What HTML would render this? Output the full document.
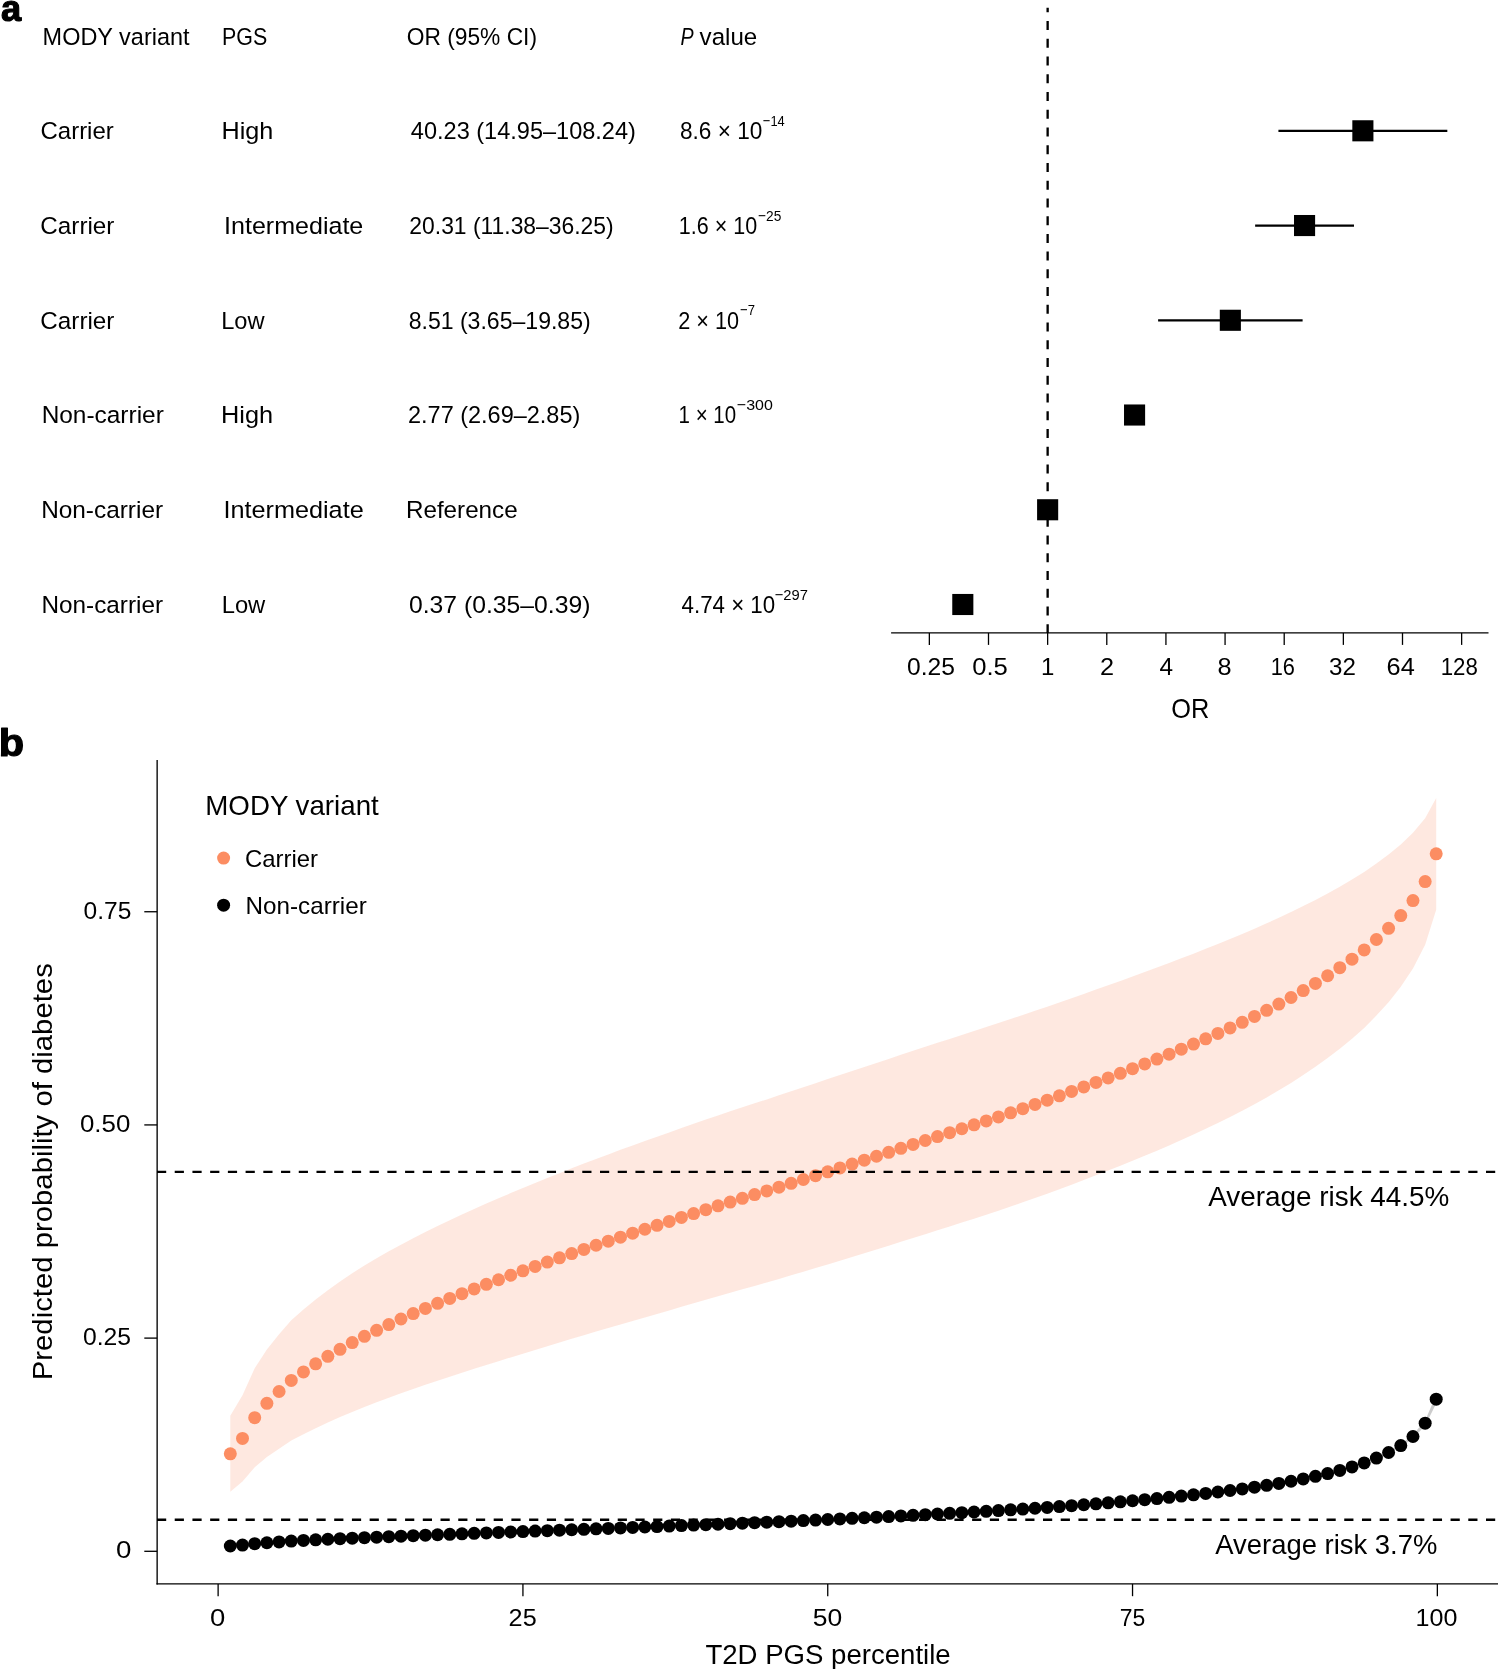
<!DOCTYPE html>
<html><head><meta charset="utf-8"><title>Figure</title><style>
html,body{margin:0;padding:0;background:#fff;width:1498px;height:1669px;overflow:hidden;}
svg{display:block;}
text{font-family:"Liberation Sans", sans-serif;}
.t{filter:opacity(0.999)}
</style></head><body>
<svg width="1498" height="1669" viewBox="0 0 1498 1669">
<rect x="0" y="0" width="1498" height="1669" fill="#fff"/>
<line x1="1047.64" y1="7.7" x2="1047.64" y2="633" stroke="#000" stroke-width="2.33" stroke-dasharray="9.0 8.74" stroke-dashoffset="4.44"/>
<line x1="1278.42" y1="130.80" x2="1447.33" y2="130.80" stroke="#000" stroke-width="2.2"/>
<rect x="1352.33" y="120.25" width="21.1" height="21.1" fill="#000"/>
<line x1="1255.14" y1="225.54" x2="1354.00" y2="225.54" stroke="#000" stroke-width="2.2"/>
<rect x="1294.01" y="214.99" width="21.1" height="21.1" fill="#000"/>
<line x1="1158.11" y1="320.28" x2="1302.61" y2="320.28" stroke="#000" stroke-width="2.2"/>
<rect x="1219.79" y="309.73" width="21.1" height="21.1" fill="#000"/>
<line x1="1132.07" y1="415.02" x2="1137.00" y2="415.02" stroke="#000" stroke-width="2.2"/>
<rect x="1124.02" y="404.47" width="21.1" height="21.1" fill="#000"/>
<rect x="1037.09" y="499.21" width="21.1" height="21.1" fill="#000"/>
<line x1="958.06" y1="604.50" x2="967.30" y2="604.50" stroke="#000" stroke-width="2.2"/>
<rect x="952.26" y="593.95" width="21.1" height="21.1" fill="#000"/>
<line x1="891.1" y1="632.93" x2="1488.5" y2="632.93" stroke="#000" stroke-width="1.32"/>
<line x1="929.35" y1="632.93" x2="929.35" y2="644.9" stroke="#000" stroke-width="1.3"/>
<line x1="988.50" y1="632.93" x2="988.50" y2="644.9" stroke="#000" stroke-width="1.3"/>
<line x1="1047.64" y1="632.93" x2="1047.64" y2="644.9" stroke="#000" stroke-width="1.3"/>
<line x1="1106.78" y1="632.93" x2="1106.78" y2="644.9" stroke="#000" stroke-width="1.3"/>
<line x1="1165.93" y1="632.93" x2="1165.93" y2="644.9" stroke="#000" stroke-width="1.3"/>
<line x1="1225.07" y1="632.93" x2="1225.07" y2="644.9" stroke="#000" stroke-width="1.3"/>
<line x1="1284.21" y1="632.93" x2="1284.21" y2="644.9" stroke="#000" stroke-width="1.3"/>
<line x1="1343.36" y1="632.93" x2="1343.36" y2="644.9" stroke="#000" stroke-width="1.3"/>
<line x1="1402.50" y1="632.93" x2="1402.50" y2="644.9" stroke="#000" stroke-width="1.3"/>
<line x1="1461.64" y1="632.93" x2="1461.64" y2="644.9" stroke="#000" stroke-width="1.3"/>
<path d="M230.31,1415.81 L242.50,1395.30 L254.70,1368.13 L266.89,1349.48 L279.08,1334.36 L291.27,1320.25 L303.47,1309.61 L315.66,1299.48 L327.85,1290.13 L340.04,1281.47 L352.24,1273.25 L364.43,1265.55 L376.62,1258.27 L388.81,1251.30 L401.00,1244.64 L413.20,1238.17 L425.39,1231.96 L437.58,1225.95 L449.77,1220.14 L461.97,1214.52 L474.16,1209.00 L486.35,1203.62 L498.54,1198.31 L510.74,1193.10 L522.93,1188.00 L535.12,1182.94 L547.31,1178.02 L559.50,1173.14 L571.70,1168.34 L583.89,1163.62 L596.08,1158.94 L608.27,1154.38 L620.47,1149.86 L632.66,1145.41 L644.85,1141.05 L657.04,1136.67 L669.24,1132.41 L681.43,1128.08 L693.62,1123.81 L705.81,1119.62 L718.00,1115.44 L730.20,1111.36 L742.39,1107.31 L754.58,1103.30 L766.77,1099.41 L778.97,1095.35 L791.16,1091.28 L803.35,1087.24 L815.54,1083.15 L827.74,1079.11 L839.93,1075.06 L852.12,1071.04 L864.31,1067.01 L876.50,1062.96 L888.70,1058.88 L900.89,1054.81 L913.08,1050.79 L925.27,1046.81 L937.47,1042.85 L949.66,1038.90 L961.85,1034.95 L974.04,1031.07 L986.23,1027.11 L998.43,1023.11 L1010.62,1019.08 L1022.81,1015.00 L1035.00,1010.86 L1047.20,1006.68 L1059.39,1002.44 L1071.58,998.21 L1083.77,993.90 L1095.97,989.60 L1108.16,985.26 L1120.35,980.88 L1132.54,976.46 L1144.73,972.03 L1156.93,967.51 L1169.12,962.95 L1181.31,958.32 L1193.50,953.66 L1205.70,948.86 L1217.89,943.97 L1230.08,938.98 L1242.27,933.91 L1254.47,928.71 L1266.66,923.34 L1278.85,917.79 L1291.04,912.07 L1303.23,906.12 L1315.43,899.93 L1327.62,893.45 L1339.81,886.67 L1352.00,879.51 L1364.20,871.91 L1376.39,863.44 L1388.58,854.45 L1400.77,844.41 L1412.97,832.76 L1425.16,818.35 L1436.20,797.93 L1436.20,909.67 L1425.16,944.85 L1412.97,968.44 L1400.77,986.79 L1388.58,1002.15 L1376.39,1015.56 L1364.20,1027.90 L1352.00,1038.75 L1339.81,1048.77 L1327.62,1058.10 L1315.43,1066.86 L1303.23,1075.11 L1291.04,1082.92 L1278.85,1090.32 L1266.66,1097.40 L1254.47,1104.17 L1242.27,1110.65 L1230.08,1116.88 L1217.89,1122.94 L1205.70,1128.82 L1193.50,1134.52 L1181.31,1140.00 L1169.12,1145.39 L1156.93,1150.64 L1144.73,1155.79 L1132.54,1160.80 L1120.35,1165.74 L1108.16,1170.59 L1095.97,1175.35 L1083.77,1180.01 L1071.58,1184.66 L1059.39,1189.17 L1047.20,1193.65 L1035.00,1198.03 L1022.81,1202.34 L1010.62,1206.53 L998.43,1210.65 L986.23,1214.70 L974.04,1218.67 L961.85,1222.54 L949.66,1226.44 L937.47,1230.32 L925.27,1234.16 L913.08,1238.00 L900.89,1241.85 L888.70,1245.71 L876.50,1249.55 L864.31,1253.34 L852.12,1257.07 L839.93,1260.76 L827.74,1264.45 L815.54,1268.10 L803.35,1271.77 L791.16,1275.36 L778.97,1278.96 L766.77,1282.51 L754.58,1285.90 L742.39,1289.35 L730.20,1292.82 L718.00,1296.28 L705.81,1299.81 L693.62,1303.30 L681.43,1306.85 L669.24,1310.41 L657.04,1313.88 L644.85,1317.43 L632.66,1320.92 L620.47,1324.47 L608.27,1328.03 L596.08,1331.60 L583.89,1335.23 L571.70,1338.86 L559.50,1342.51 L547.31,1346.21 L535.12,1349.89 L522.93,1353.64 L510.74,1357.39 L498.54,1361.18 L486.35,1365.01 L474.16,1368.85 L461.97,1372.75 L449.77,1376.69 L437.58,1380.71 L425.39,1384.83 L413.20,1389.04 L401.00,1393.37 L388.81,1397.78 L376.62,1402.34 L364.43,1407.05 L352.24,1411.96 L340.04,1417.12 L327.85,1422.48 L315.66,1428.18 L303.47,1434.25 L291.27,1440.51 L279.08,1448.64 L266.89,1457.12 L254.70,1467.27 L242.50,1481.50 L230.31,1491.79 Z" fill="#FC8D62" fill-opacity="0.2"/>
<path d="M230.31,1545.41 L242.50,1544.46 L254.70,1543.11 L266.89,1542.13 L279.08,1541.30 L291.27,1540.50 L303.47,1539.86 L315.66,1539.25 L327.85,1538.66 L340.04,1538.10 L352.24,1537.56 L364.43,1537.03 L376.62,1536.53 L388.81,1536.03 L401.00,1535.55 L413.20,1535.07 L425.39,1534.60 L437.58,1534.14 L449.77,1533.68 L461.97,1533.23 L474.16,1532.77 L486.35,1532.33 L498.54,1531.87 L510.74,1531.42 L522.93,1530.97 L535.12,1530.52 L547.31,1530.07 L559.50,1529.61 L571.70,1529.16 L583.89,1528.70 L596.08,1528.24 L608.27,1527.79 L620.47,1527.33 L632.66,1526.87 L644.85,1526.41 L657.04,1525.94 L669.24,1525.47 L681.43,1524.99 L693.62,1524.51 L705.81,1524.03 L718.00,1523.54 L730.20,1523.05 L742.39,1522.56 L754.58,1522.07 L766.77,1521.58 L778.97,1521.06 L791.16,1520.53 L803.35,1520.00 L815.54,1519.45 L827.74,1518.89 L839.93,1518.32 L852.12,1517.75 L864.31,1517.16 L876.50,1516.56 L888.70,1515.95 L900.89,1515.32 L913.08,1514.69 L925.27,1514.05 L937.47,1513.40 L949.66,1512.74 L961.85,1512.06 L974.04,1511.39 L986.23,1510.68 L998.43,1509.96 L1010.62,1509.21 L1022.81,1508.44 L1035.00,1507.63 L1047.20,1506.80 L1059.39,1505.94 L1071.58,1505.06 L1083.77,1504.13 L1095.97,1503.19 L1108.16,1502.21 L1120.35,1501.20 L1132.54,1500.15 L1144.73,1499.07 L1156.93,1497.93 L1169.12,1496.75 L1181.31,1495.51 L1193.50,1494.23 L1205.70,1492.86 L1217.89,1491.42 L1230.08,1489.90 L1242.27,1488.30 L1254.47,1486.59 L1266.66,1484.75 L1278.85,1482.78 L1291.04,1480.64 L1303.23,1478.32 L1315.43,1475.77 L1327.62,1472.96 L1339.81,1469.84 L1352.00,1466.33 L1364.20,1462.34 L1376.39,1457.52 L1388.58,1451.42 L1400.77,1444.19 L1412.97,1434.68 L1425.16,1420.61 L1436.20,1394.91 L1436.20,1403.51 L1425.16,1425.81 L1412.97,1438.28 L1400.77,1446.99 L1388.58,1453.62 L1376.39,1458.72 L1364.20,1463.54 L1352.00,1467.53 L1339.81,1471.04 L1327.62,1474.16 L1315.43,1476.97 L1303.23,1479.52 L1291.04,1481.84 L1278.85,1483.98 L1266.66,1485.95 L1254.47,1487.79 L1242.27,1489.50 L1230.08,1491.10 L1217.89,1492.62 L1205.70,1494.06 L1193.50,1495.43 L1181.31,1496.71 L1169.12,1497.95 L1156.93,1499.13 L1144.73,1500.27 L1132.54,1501.35 L1120.35,1502.40 L1108.16,1503.41 L1095.97,1504.39 L1083.77,1505.33 L1071.58,1506.26 L1059.39,1507.14 L1047.20,1508.00 L1035.00,1508.83 L1022.81,1509.64 L1010.62,1510.41 L998.43,1511.16 L986.23,1511.88 L974.04,1512.59 L961.85,1513.26 L949.66,1513.94 L937.47,1514.60 L925.27,1515.25 L913.08,1515.89 L900.89,1516.52 L888.70,1517.15 L876.50,1517.76 L864.31,1518.36 L852.12,1518.95 L839.93,1519.52 L827.74,1520.09 L815.54,1520.65 L803.35,1521.20 L791.16,1521.73 L778.97,1522.26 L766.77,1522.78 L754.58,1523.27 L742.39,1523.76 L730.20,1524.25 L718.00,1524.74 L705.81,1525.23 L693.62,1525.71 L681.43,1526.19 L669.24,1526.67 L657.04,1527.14 L644.85,1527.61 L632.66,1528.07 L620.47,1528.53 L608.27,1528.99 L596.08,1529.44 L583.89,1529.90 L571.70,1530.36 L559.50,1530.81 L547.31,1531.27 L535.12,1531.72 L522.93,1532.17 L510.74,1532.62 L498.54,1533.07 L486.35,1533.53 L474.16,1533.97 L461.97,1534.43 L449.77,1534.88 L437.58,1535.34 L425.39,1535.80 L413.20,1536.27 L401.00,1536.75 L388.81,1537.23 L376.62,1537.73 L364.43,1538.23 L352.24,1538.76 L340.04,1539.30 L327.85,1539.86 L315.66,1540.45 L303.47,1541.06 L291.27,1541.70 L279.08,1542.50 L266.89,1543.33 L254.70,1544.31 L242.50,1545.66 L230.31,1546.61 Z" fill="#000" fill-opacity="0.2"/>
<g fill="#FC8D62"><circle cx="230.31" cy="1453.80" r="6.5"/><circle cx="242.50" cy="1438.40" r="6.5"/><circle cx="254.70" cy="1417.70" r="6.5"/><circle cx="266.89" cy="1403.30" r="6.5"/><circle cx="279.08" cy="1391.50" r="6.5"/><circle cx="291.27" cy="1380.38" r="6.5"/><circle cx="303.47" cy="1371.93" r="6.5"/><circle cx="315.66" cy="1363.83" r="6.5"/><circle cx="327.85" cy="1356.31" r="6.5"/><circle cx="340.04" cy="1349.29" r="6.5"/><circle cx="352.24" cy="1342.60" r="6.5"/><circle cx="364.43" cy="1336.30" r="6.5"/><circle cx="376.62" cy="1330.31" r="6.5"/><circle cx="388.81" cy="1324.54" r="6.5"/><circle cx="401.00" cy="1319.00" r="6.5"/><circle cx="413.20" cy="1313.60" r="6.5"/><circle cx="425.39" cy="1308.39" r="6.5"/><circle cx="437.58" cy="1303.33" r="6.5"/><circle cx="449.77" cy="1298.41" r="6.5"/><circle cx="461.97" cy="1293.63" r="6.5"/><circle cx="474.16" cy="1288.92" r="6.5"/><circle cx="486.35" cy="1284.31" r="6.5"/><circle cx="498.54" cy="1279.74" r="6.5"/><circle cx="510.74" cy="1275.24" r="6.5"/><circle cx="522.93" cy="1270.82" r="6.5"/><circle cx="535.12" cy="1266.41" r="6.5"/><circle cx="547.31" cy="1262.11" r="6.5"/><circle cx="559.50" cy="1257.82" r="6.5"/><circle cx="571.70" cy="1253.60" r="6.5"/><circle cx="583.89" cy="1249.43" r="6.5"/><circle cx="596.08" cy="1245.27" r="6.5"/><circle cx="608.27" cy="1241.20" r="6.5"/><circle cx="620.47" cy="1237.16" r="6.5"/><circle cx="632.66" cy="1233.16" r="6.5"/><circle cx="644.85" cy="1229.24" r="6.5"/><circle cx="657.04" cy="1225.28" r="6.5"/><circle cx="669.24" cy="1221.41" r="6.5"/><circle cx="681.43" cy="1217.46" r="6.5"/><circle cx="693.62" cy="1213.55" r="6.5"/><circle cx="705.81" cy="1209.72" r="6.5"/><circle cx="718.00" cy="1205.86" r="6.5"/><circle cx="730.20" cy="1202.09" r="6.5"/><circle cx="742.39" cy="1198.33" r="6.5"/><circle cx="754.58" cy="1194.60" r="6.5"/><circle cx="766.77" cy="1190.96" r="6.5"/><circle cx="778.97" cy="1187.15" r="6.5"/><circle cx="791.16" cy="1183.32" r="6.5"/><circle cx="803.35" cy="1179.51" r="6.5"/><circle cx="815.54" cy="1175.63" r="6.5"/><circle cx="827.74" cy="1171.78" r="6.5"/><circle cx="839.93" cy="1167.91" r="6.5"/><circle cx="852.12" cy="1164.05" r="6.5"/><circle cx="864.31" cy="1160.17" r="6.5"/><circle cx="876.50" cy="1156.26" r="6.5"/><circle cx="888.70" cy="1152.29" r="6.5"/><circle cx="900.89" cy="1148.33" r="6.5"/><circle cx="913.08" cy="1144.40" r="6.5"/><circle cx="925.27" cy="1140.48" r="6.5"/><circle cx="937.47" cy="1136.58" r="6.5"/><circle cx="949.66" cy="1132.67" r="6.5"/><circle cx="961.85" cy="1128.75" r="6.5"/><circle cx="974.04" cy="1124.87" r="6.5"/><circle cx="986.23" cy="1120.90" r="6.5"/><circle cx="998.43" cy="1116.88" r="6.5"/><circle cx="1010.62" cy="1112.81" r="6.5"/><circle cx="1022.81" cy="1108.67" r="6.5"/><circle cx="1035.00" cy="1104.45" r="6.5"/><circle cx="1047.20" cy="1100.17" r="6.5"/><circle cx="1059.39" cy="1095.81" r="6.5"/><circle cx="1071.58" cy="1091.44" r="6.5"/><circle cx="1083.77" cy="1086.96" r="6.5"/><circle cx="1095.97" cy="1082.47" r="6.5"/><circle cx="1108.16" cy="1077.93" r="6.5"/><circle cx="1120.35" cy="1073.31" r="6.5"/><circle cx="1132.54" cy="1068.63" r="6.5"/><circle cx="1144.73" cy="1063.91" r="6.5"/><circle cx="1156.93" cy="1059.07" r="6.5"/><circle cx="1169.12" cy="1054.17" r="6.5"/><circle cx="1181.31" cy="1049.16" r="6.5"/><circle cx="1193.50" cy="1044.09" r="6.5"/><circle cx="1205.70" cy="1038.84" r="6.5"/><circle cx="1217.89" cy="1033.45" r="6.5"/><circle cx="1230.08" cy="1027.93" r="6.5"/><circle cx="1242.27" cy="1022.28" r="6.5"/><circle cx="1254.47" cy="1016.44" r="6.5"/><circle cx="1266.66" cy="1010.37" r="6.5"/><circle cx="1278.85" cy="1004.05" r="6.5"/><circle cx="1291.04" cy="997.49" r="6.5"/><circle cx="1303.23" cy="990.62" r="6.5"/><circle cx="1315.43" cy="983.40" r="6.5"/><circle cx="1327.62" cy="975.77" r="6.5"/><circle cx="1339.81" cy="967.72" r="6.5"/><circle cx="1352.00" cy="959.13" r="6.5"/><circle cx="1364.20" cy="949.91" r="6.5"/><circle cx="1376.39" cy="939.50" r="6.5"/><circle cx="1388.58" cy="928.30" r="6.5"/><circle cx="1400.77" cy="915.60" r="6.5"/><circle cx="1412.97" cy="900.60" r="6.5"/><circle cx="1425.16" cy="881.60" r="6.5"/><circle cx="1436.20" cy="853.80" r="6.5"/></g>
<g fill="#000"><circle cx="230.31" cy="1546.01" r="6.5"/><circle cx="242.50" cy="1545.06" r="6.5"/><circle cx="254.70" cy="1543.71" r="6.5"/><circle cx="266.89" cy="1542.73" r="6.5"/><circle cx="279.08" cy="1541.90" r="6.5"/><circle cx="291.27" cy="1541.10" r="6.5"/><circle cx="303.47" cy="1540.46" r="6.5"/><circle cx="315.66" cy="1539.85" r="6.5"/><circle cx="327.85" cy="1539.26" r="6.5"/><circle cx="340.04" cy="1538.70" r="6.5"/><circle cx="352.24" cy="1538.16" r="6.5"/><circle cx="364.43" cy="1537.63" r="6.5"/><circle cx="376.62" cy="1537.13" r="6.5"/><circle cx="388.81" cy="1536.63" r="6.5"/><circle cx="401.00" cy="1536.15" r="6.5"/><circle cx="413.20" cy="1535.67" r="6.5"/><circle cx="425.39" cy="1535.20" r="6.5"/><circle cx="437.58" cy="1534.74" r="6.5"/><circle cx="449.77" cy="1534.28" r="6.5"/><circle cx="461.97" cy="1533.83" r="6.5"/><circle cx="474.16" cy="1533.37" r="6.5"/><circle cx="486.35" cy="1532.93" r="6.5"/><circle cx="498.54" cy="1532.47" r="6.5"/><circle cx="510.74" cy="1532.02" r="6.5"/><circle cx="522.93" cy="1531.57" r="6.5"/><circle cx="535.12" cy="1531.12" r="6.5"/><circle cx="547.31" cy="1530.67" r="6.5"/><circle cx="559.50" cy="1530.21" r="6.5"/><circle cx="571.70" cy="1529.76" r="6.5"/><circle cx="583.89" cy="1529.30" r="6.5"/><circle cx="596.08" cy="1528.84" r="6.5"/><circle cx="608.27" cy="1528.39" r="6.5"/><circle cx="620.47" cy="1527.93" r="6.5"/><circle cx="632.66" cy="1527.47" r="6.5"/><circle cx="644.85" cy="1527.01" r="6.5"/><circle cx="657.04" cy="1526.54" r="6.5"/><circle cx="669.24" cy="1526.07" r="6.5"/><circle cx="681.43" cy="1525.59" r="6.5"/><circle cx="693.62" cy="1525.11" r="6.5"/><circle cx="705.81" cy="1524.63" r="6.5"/><circle cx="718.00" cy="1524.14" r="6.5"/><circle cx="730.20" cy="1523.65" r="6.5"/><circle cx="742.39" cy="1523.16" r="6.5"/><circle cx="754.58" cy="1522.67" r="6.5"/><circle cx="766.77" cy="1522.18" r="6.5"/><circle cx="778.97" cy="1521.66" r="6.5"/><circle cx="791.16" cy="1521.13" r="6.5"/><circle cx="803.35" cy="1520.60" r="6.5"/><circle cx="815.54" cy="1520.05" r="6.5"/><circle cx="827.74" cy="1519.49" r="6.5"/><circle cx="839.93" cy="1518.92" r="6.5"/><circle cx="852.12" cy="1518.35" r="6.5"/><circle cx="864.31" cy="1517.76" r="6.5"/><circle cx="876.50" cy="1517.16" r="6.5"/><circle cx="888.70" cy="1516.55" r="6.5"/><circle cx="900.89" cy="1515.92" r="6.5"/><circle cx="913.08" cy="1515.29" r="6.5"/><circle cx="925.27" cy="1514.65" r="6.5"/><circle cx="937.47" cy="1514.00" r="6.5"/><circle cx="949.66" cy="1513.34" r="6.5"/><circle cx="961.85" cy="1512.66" r="6.5"/><circle cx="974.04" cy="1511.99" r="6.5"/><circle cx="986.23" cy="1511.28" r="6.5"/><circle cx="998.43" cy="1510.56" r="6.5"/><circle cx="1010.62" cy="1509.81" r="6.5"/><circle cx="1022.81" cy="1509.04" r="6.5"/><circle cx="1035.00" cy="1508.23" r="6.5"/><circle cx="1047.20" cy="1507.40" r="6.5"/><circle cx="1059.39" cy="1506.54" r="6.5"/><circle cx="1071.58" cy="1505.66" r="6.5"/><circle cx="1083.77" cy="1504.73" r="6.5"/><circle cx="1095.97" cy="1503.79" r="6.5"/><circle cx="1108.16" cy="1502.81" r="6.5"/><circle cx="1120.35" cy="1501.80" r="6.5"/><circle cx="1132.54" cy="1500.75" r="6.5"/><circle cx="1144.73" cy="1499.67" r="6.5"/><circle cx="1156.93" cy="1498.53" r="6.5"/><circle cx="1169.12" cy="1497.35" r="6.5"/><circle cx="1181.31" cy="1496.11" r="6.5"/><circle cx="1193.50" cy="1494.83" r="6.5"/><circle cx="1205.70" cy="1493.46" r="6.5"/><circle cx="1217.89" cy="1492.02" r="6.5"/><circle cx="1230.08" cy="1490.50" r="6.5"/><circle cx="1242.27" cy="1488.90" r="6.5"/><circle cx="1254.47" cy="1487.19" r="6.5"/><circle cx="1266.66" cy="1485.35" r="6.5"/><circle cx="1278.85" cy="1483.38" r="6.5"/><circle cx="1291.04" cy="1481.24" r="6.5"/><circle cx="1303.23" cy="1478.92" r="6.5"/><circle cx="1315.43" cy="1476.37" r="6.5"/><circle cx="1327.62" cy="1473.56" r="6.5"/><circle cx="1339.81" cy="1470.44" r="6.5"/><circle cx="1352.00" cy="1466.93" r="6.5"/><circle cx="1364.20" cy="1462.94" r="6.5"/><circle cx="1376.39" cy="1458.12" r="6.5"/><circle cx="1388.58" cy="1452.52" r="6.5"/><circle cx="1400.77" cy="1445.59" r="6.5"/><circle cx="1412.97" cy="1436.48" r="6.5"/><circle cx="1425.16" cy="1423.21" r="6.5"/><circle cx="1436.20" cy="1399.21" r="6.5"/></g>
<line x1="157.0" y1="1171.83" x2="1498" y2="1171.83" stroke="#000" stroke-width="2.4" stroke-dasharray="9.2 8.52"/>
<line x1="157.0" y1="1519.75" x2="1498" y2="1519.75" stroke="#000" stroke-width="2.4" stroke-dasharray="9.2 8.52"/>
<line x1="157.14" y1="760.1" x2="157.14" y2="1584.6" stroke="#000" stroke-width="1.35"/>
<line x1="156.46" y1="1583.91" x2="1498" y2="1583.91" stroke="#000" stroke-width="1.33"/>
<line x1="144.3" y1="911.74" x2="157.14" y2="911.74" stroke="#000" stroke-width="1.32"/>
<line x1="144.3" y1="1124.92" x2="157.14" y2="1124.92" stroke="#000" stroke-width="1.32"/>
<line x1="144.3" y1="1338.11" x2="157.14" y2="1338.11" stroke="#000" stroke-width="1.32"/>
<line x1="144.3" y1="1551.30" x2="157.14" y2="1551.30" stroke="#000" stroke-width="1.32"/>
<line x1="218.12" y1="1583.91" x2="218.12" y2="1596.2" stroke="#000" stroke-width="1.3"/>
<line x1="522.93" y1="1583.91" x2="522.93" y2="1596.2" stroke="#000" stroke-width="1.3"/>
<line x1="827.74" y1="1583.91" x2="827.74" y2="1596.2" stroke="#000" stroke-width="1.3"/>
<line x1="1132.54" y1="1583.91" x2="1132.54" y2="1596.2" stroke="#000" stroke-width="1.3"/>
<line x1="1437.35" y1="1583.91" x2="1437.35" y2="1596.2" stroke="#000" stroke-width="1.3"/>
<circle cx="223.6" cy="858.1" r="6.5" fill="#FC8D62"/>
<circle cx="223.6" cy="905.2" r="6.5" fill="#000"/>
<g class="t">
<text x="1.11" y="20.62" font-size="37.64" font-weight="bold" stroke="#000" stroke-width="1.2" stroke-linejoin="round" textLength="20.17" lengthAdjust="spacingAndGlyphs">a</text>
<text x="42.62" y="45.40" font-size="23.7" textLength="146.93" lengthAdjust="spacingAndGlyphs">MODY variant</text>
<text x="221.99" y="45.40" font-size="23.7" textLength="45.22" lengthAdjust="spacingAndGlyphs">PGS</text>
<text x="406.78" y="45.40" font-size="23.7" textLength="130.26" lengthAdjust="spacingAndGlyphs">OR (95% CI)</text>
<text x="680.41" y="45.40" font-size="23.7" font-style="italic" textLength="13.13" lengthAdjust="spacingAndGlyphs">P</text>
<text x="699.58" y="45.40" font-size="23.7" textLength="57.62" lengthAdjust="spacingAndGlyphs">value</text>
<text x="40.50" y="139.20" font-size="23.7" textLength="73.28" lengthAdjust="spacingAndGlyphs">Carrier</text>
<text x="221.59" y="139.20" font-size="23.7" textLength="51.79" lengthAdjust="spacingAndGlyphs">High</text>
<text x="410.83" y="139.20" font-size="23.7" textLength="225.07" lengthAdjust="spacingAndGlyphs">40.23 (14.95–108.24)</text>
<text x="679.98" y="139.20" font-size="24.4" textLength="82.36" lengthAdjust="spacingAndGlyphs">8.6 × 10</text>
<text x="762.86" y="126.10" font-size="15.4" textLength="21.85" lengthAdjust="spacingAndGlyphs">−14</text>
<text x="40.39" y="233.90" font-size="23.7" textLength="73.99" lengthAdjust="spacingAndGlyphs">Carrier</text>
<text x="224.05" y="233.90" font-size="23.7" textLength="139.25" lengthAdjust="spacingAndGlyphs">Intermediate</text>
<text x="409.36" y="233.90" font-size="23.7" textLength="204.29" lengthAdjust="spacingAndGlyphs">20.31 (11.38–36.25)</text>
<text x="678.79" y="233.90" font-size="24.4" textLength="78.31" lengthAdjust="spacingAndGlyphs">1.6 × 10</text>
<text x="758.01" y="220.80" font-size="15.4" textLength="23.25" lengthAdjust="spacingAndGlyphs">−25</text>
<text x="40.39" y="328.50" font-size="23.7" textLength="73.99" lengthAdjust="spacingAndGlyphs">Carrier</text>
<text x="221.21" y="328.50" font-size="23.7" textLength="43.38" lengthAdjust="spacingAndGlyphs">Low</text>
<text x="408.66" y="328.50" font-size="23.7" textLength="182.04" lengthAdjust="spacingAndGlyphs">8.51 (3.65–19.85)</text>
<text x="678.32" y="328.50" font-size="24.4" textLength="60.81" lengthAdjust="spacingAndGlyphs">2 × 10</text>
<text x="740.05" y="315.40" font-size="15.4" textLength="14.91" lengthAdjust="spacingAndGlyphs">−7</text>
<text x="41.65" y="423.20" font-size="23.7" textLength="122.15" lengthAdjust="spacingAndGlyphs">Non-carrier</text>
<text x="221.07" y="423.20" font-size="23.7" textLength="52.12" lengthAdjust="spacingAndGlyphs">High</text>
<text x="408.03" y="423.20" font-size="23.7" textLength="172.28" lengthAdjust="spacingAndGlyphs">2.77 (2.69–2.85)</text>
<text x="678.56" y="423.20" font-size="24.4" textLength="57.52" lengthAdjust="spacingAndGlyphs">1 × 10</text>
<text x="736.80" y="410.10" font-size="15.4" textLength="36.00" lengthAdjust="spacingAndGlyphs">−300</text>
<text x="41.15" y="517.90" font-size="23.7" textLength="121.95" lengthAdjust="spacingAndGlyphs">Non-carrier</text>
<text x="223.43" y="517.90" font-size="23.7" textLength="140.28" lengthAdjust="spacingAndGlyphs">Intermediate</text>
<text x="405.96" y="517.90" font-size="23.7" textLength="111.70" lengthAdjust="spacingAndGlyphs">Reference</text>
<text x="41.45" y="612.60" font-size="23.7" textLength="121.64" lengthAdjust="spacingAndGlyphs">Non-carrier</text>
<text x="221.70" y="612.60" font-size="23.7" textLength="43.59" lengthAdjust="spacingAndGlyphs">Low</text>
<text x="409.01" y="612.60" font-size="23.7" textLength="181.37" lengthAdjust="spacingAndGlyphs">0.37 (0.35–0.39)</text>
<text x="681.55" y="612.60" font-size="24.4" textLength="93.60" lengthAdjust="spacingAndGlyphs">4.74 × 10</text>
<text x="774.76" y="599.50" font-size="15.4" textLength="33.21" lengthAdjust="spacingAndGlyphs">−297</text>
<text x="907.02" y="675.00" font-size="24.0" textLength="47.90" lengthAdjust="spacingAndGlyphs">0.25</text>
<text x="972.17" y="675.00" font-size="24.0" textLength="35.66" lengthAdjust="spacingAndGlyphs">0.5</text>
<text x="1040.88" y="675.00" font-size="24.0">1</text>
<text x="1099.94" y="675.00" font-size="24.0" textLength="14.06" lengthAdjust="spacingAndGlyphs">2</text>
<text x="1159.61" y="675.00" font-size="24.0" textLength="13.55" lengthAdjust="spacingAndGlyphs">4</text>
<text x="1217.56" y="675.00" font-size="24.0" textLength="14.08" lengthAdjust="spacingAndGlyphs">8</text>
<text x="1270.66" y="675.00" font-size="24.0" textLength="24.26" lengthAdjust="spacingAndGlyphs">16</text>
<text x="1329.04" y="675.00" font-size="24.0" textLength="26.83" lengthAdjust="spacingAndGlyphs">32</text>
<text x="1386.63" y="675.00" font-size="24.0" textLength="28.19" lengthAdjust="spacingAndGlyphs">64</text>
<text x="1440.73" y="675.00" font-size="24.0" textLength="37.14" lengthAdjust="spacingAndGlyphs">128</text>
<text x="1171.26" y="717.90" font-size="27.8" textLength="37.98" lengthAdjust="spacingAndGlyphs">OR</text>
<text x="-1.30" y="755.51" font-size="38.50" font-weight="bold" stroke="#000" stroke-width="1.2" stroke-linejoin="round" textLength="25.40" lengthAdjust="spacingAndGlyphs">b</text>
<text x="83.62" y="919.20" font-size="24.4" textLength="47.80" lengthAdjust="spacingAndGlyphs">0.75</text>
<text x="79.96" y="1131.80" font-size="24.4" textLength="50.38" lengthAdjust="spacingAndGlyphs">0.50</text>
<text x="83.01" y="1345.00" font-size="24.4" textLength="48.11" lengthAdjust="spacingAndGlyphs">0.25</text>
<text x="115.99" y="1558.10" font-size="24.4" textLength="15.41" lengthAdjust="spacingAndGlyphs">0</text>
<text x="210.10" y="1626.10" font-size="24.4" textLength="15.29" lengthAdjust="spacingAndGlyphs">0</text>
<text x="508.64" y="1626.10" font-size="24.4" textLength="28.03" lengthAdjust="spacingAndGlyphs">25</text>
<text x="812.74" y="1626.10" font-size="24.4" textLength="29.45" lengthAdjust="spacingAndGlyphs">50</text>
<text x="1119.65" y="1626.10" font-size="24.4" textLength="25.52" lengthAdjust="spacingAndGlyphs">75</text>
<text x="1415.52" y="1626.10" font-size="24.4" textLength="41.85" lengthAdjust="spacingAndGlyphs">100</text>
<text x="705.45" y="1663.70" font-size="27.0" textLength="245.27" lengthAdjust="spacingAndGlyphs">T2D PGS percentile</text>
<g transform="translate(52.0,1377.9) rotate(-90)">
<text x="-2.34" y="0.00" font-size="27.8" textLength="417.01" lengthAdjust="spacingAndGlyphs">Predicted probability of diabetes</text>
</g>
<text x="205.28" y="815.00" font-size="28.0" textLength="173.49" lengthAdjust="spacingAndGlyphs">MODY variant</text>
<text x="244.90" y="866.90" font-size="24.0" textLength="73.07" lengthAdjust="spacingAndGlyphs">Carrier</text>
<text x="245.56" y="914.20" font-size="24.0" textLength="121.23" lengthAdjust="spacingAndGlyphs">Non-carrier</text>
<text x="1208.20" y="1205.80" font-size="27.2" textLength="241.22" lengthAdjust="spacingAndGlyphs">Average risk 44.5%</text>
<text x="1215.30" y="1553.80" font-size="27.2" textLength="221.97" lengthAdjust="spacingAndGlyphs">Average risk 3.7%</text>
</g>
</svg></body></html>
